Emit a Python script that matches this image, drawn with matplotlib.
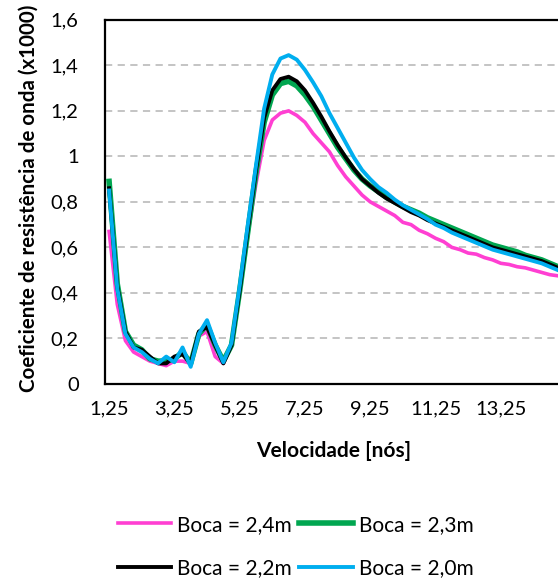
import numpy as np
import matplotlib
matplotlib.use("Agg")
import matplotlib.pyplot as plt
from matplotlib.ticker import FuncFormatter

# velocidade [nós], passo de 0,25
velocidade = np.arange(1.25, 15.01, 0.25)

boca_24 = [0.67, 0.35, 0.19, 0.14, 0.12, 0.10, 0.09, 0.08, 0.10, 0.10, 0.09, 0.21, 0.23, 0.12,
           0.09, 0.17, 0.40, 0.66, 0.88, 1.07, 1.16, 1.19, 1.20, 1.18, 1.15, 1.10, 1.06, 1.02,
           0.96, 0.91, 0.87, 0.83, 0.80, 0.78, 0.76, 0.74, 0.71, 0.70, 0.675, 0.66, 0.64, 0.625,
           0.60, 0.59, 0.575, 0.57, 0.555, 0.545, 0.53, 0.525, 0.515, 0.51, 0.50, 0.49, 0.48, 0.475]
boca_23 = [0.89, 0.44, 0.23, 0.17, 0.15, 0.11, 0.10, 0.10, 0.11, 0.14, 0.09, 0.22, 0.26, 0.17,
           0.10, 0.17, 0.41, 0.67, 0.93, 1.15, 1.27, 1.32, 1.33, 1.31, 1.27, 1.22, 1.16, 1.10,
           1.04, 0.99, 0.94, 0.90, 0.87, 0.845, 0.82, 0.80, 0.78, 0.765, 0.75, 0.73, 0.715, 0.70,
           0.685, 0.67, 0.655, 0.64, 0.625, 0.61, 0.60, 0.59, 0.58, 0.565, 0.555, 0.545, 0.53, 0.515]
boca_22 = [0.86, 0.43, 0.23, 0.16, 0.15, 0.12, 0.09, 0.09, 0.12, 0.13, 0.09, 0.23, 0.25, 0.17,
           0.09, 0.17, 0.41, 0.68, 0.94, 1.17, 1.29, 1.34, 1.35, 1.33, 1.29, 1.235, 1.175, 1.11,
           1.05, 0.995, 0.945, 0.90, 0.87, 0.84, 0.815, 0.795, 0.775, 0.755, 0.74, 0.72, 0.705, 0.69,
           0.675, 0.66, 0.645, 0.63, 0.615, 0.60, 0.59, 0.58, 0.57, 0.56, 0.55, 0.54, 0.525, 0.51]
boca_20 = [0.85, 0.42, 0.22, 0.16, 0.14, 0.11, 0.09, 0.12, 0.095, 0.16, 0.075, 0.22, 0.28, 0.18,
           0.095, 0.18, 0.43, 0.70, 0.96, 1.21, 1.36, 1.43, 1.445, 1.425, 1.38, 1.325, 1.265, 1.19,
           1.125, 1.06, 0.995, 0.94, 0.90, 0.865, 0.84, 0.81, 0.785, 0.765, 0.745, 0.725, 0.70, 0.685,
           0.665, 0.65, 0.635, 0.62, 0.605, 0.59, 0.58, 0.57, 0.56, 0.55, 0.54, 0.53, 0.515, 0.50]

x_ticks = [1.25, 3.25, 5.25, 7.25, 9.25, 11.25, 13.25]
y_ticks = [0, 0.2, 0.4, 0.6, 0.8, 1.0, 1.2, 1.4, 1.6]

plt.rcParams['font.family'] = ['Lato', 'DejaVu Sans']

fig = plt.figure(figsize=(5.58, 5.79), dpi=100)
# a área do gráfico continua para lá da borda direita da imagem
ax = fig.add_axes([0.1882, 0.337, 0.819, 0.6287])

l24, = ax.plot(velocidade, boca_24, color='#FF3FD2', lw=2.6, label='Boca = 2,4m', zorder=3)
l23, = ax.plot(velocidade, boca_23, color='#00A650', lw=4.0, label='Boca = 2,3m', zorder=4)
l22, = ax.plot(velocidade, boca_22, color='black', lw=2.8, label='Boca = 2,2m', zorder=5)
l20, = ax.plot(velocidade, boca_20, color='#00AEEF', lw=2.8, label='Boca = 2,0m', zorder=6)

ax.set_xlim(1.125, 15.125)
ax.set_ylim(0, 1.6)
ax.set_xticks(x_ticks)
ax.set_yticks(y_ticks)
fmt = FuncFormatter(lambda v, p: f"{v:g}".replace('.', ','))
ax.xaxis.set_major_formatter(fmt)
ax.yaxis.set_major_formatter(fmt)
ax.tick_params(length=0, labelsize=14.5)
ax.tick_params(axis='x', pad=12)
ax.tick_params(axis='y', pad=19)

for y in y_ticks[1:-1]:
    ax.axhline(y, color='#BFBFBF', lw=1.3, ls=(0, (4, 3)), zorder=1)

for s in ax.spines.values():
    s.set_linewidth(1.6)
    s.set_color('black')
ax.spines['right'].set_visible(False)

ax.set_xlabel('Velocidade [nós]', fontsize=15, fontweight='bold', labelpad=17)
fig.text(0.052, 0.658, 'Coeficiente de resistência de onda (x1000)', rotation=90,
         ha='center', va='center', fontsize=14.8, fontweight='bold')

# ordem em linhas: rosa, verde / preto, azul
fig.legend([l24, l22, l23, l20], ['Boca = 2,4m', 'Boca = 2,2m', 'Boca = 2,3m', 'Boca = 2,0m'],
           loc='center', bbox_to_anchor=(0.53, 0.056), ncol=2, frameon=False,
           fontsize=15, handlelength=2.55, columnspacing=0.35, handletextpad=0.3,
           labelspacing=1.15)

fig.savefig('out.png', dpi=100)
